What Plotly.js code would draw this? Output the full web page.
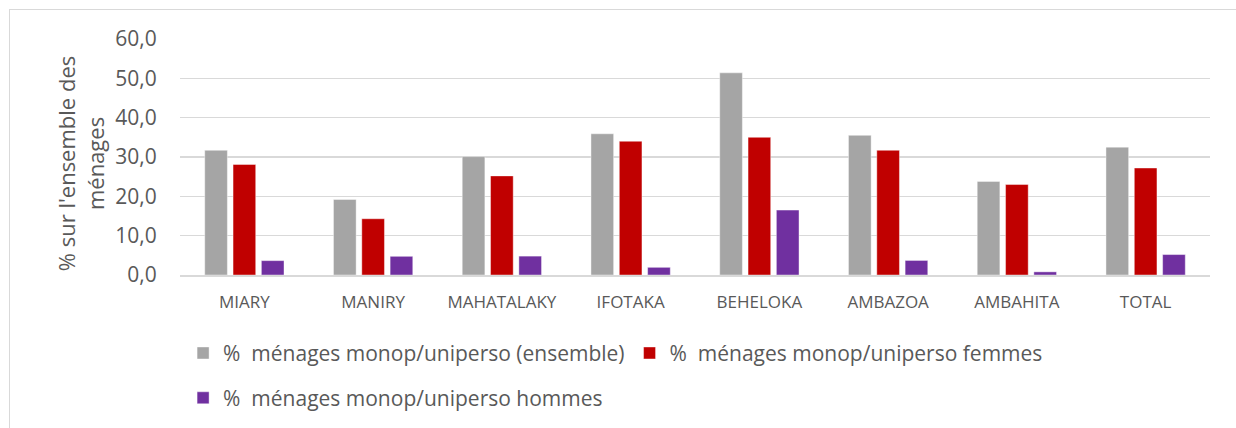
<!DOCTYPE html>
<html><head><meta charset="utf-8">
<script src="https://cdn.plot.ly/plotly-3.0.1.min.js"></script>
<style>
body{margin:0;padding:0;background:#fff;}
#frame{position:absolute;left:9px;top:9px;width:1240px;height:430px;border:1px solid #d9d9d9;box-sizing:border-box;}
#chart{position:absolute;left:0;top:0;width:1236px;height:428px;}
</style></head>
<body>
<div id="frame"></div>
<div id="chart"></div>
<script>
const categories = ["MIARY","MANIRY","MAHATALAKY","IFOTAKA","BEHELOKA","AMBAZOA","AMBAHITA","TOTAL"];
const ensemble = [31.7,19.2,30.1,35.9,51.4,35.5,23.8,32.5];
const femmes   = [28.1,14.3,25.2,34.0,35.0,31.7,23.0,27.2];
const hommes   = [3.65,4.75,4.8,1.95,16.5,3.7,0.8,5.2];
const seriesNames = ["%  ménages monop/uniperso (ensemble)","%  ménages monop/uniperso femmes","%  ménages monop/uniperso hommes"];
const yTicks = [0,10,20,30,40,50,60];
const yTitle = "% sur l'ensemble des<br>ménages";

const font = {family:"Open Sans, Liberation Sans, sans-serif", color:"#595959"};
const mk = (c)=>({color:c, line:{color:"rgba(255,255,255,0.6)", width:0.7}});
const traces = [
  {type:"bar", x:categories, y:ensemble, name:seriesNames[0], marker:mk("#a5a5a5"), legend:"legend"},
  {type:"bar", x:categories, y:femmes, name:seriesNames[1], marker:mk("#c00000"), legend:"legend"},
  {type:"bar", x:categories, y:hommes, name:seriesNames[2], marker:mk("#7030a0"), legend:"legend2"}
];
const legendFont = Object.assign({}, font, {size:21});
const layout = {
  width:1236, height:428,
  margin:{l:180, r:26, t:39, b:153.3, autoexpand:false},
  paper_bgcolor:"rgba(0,0,0,0)", plot_bgcolor:"rgba(0,0,0,0)",
  font:font,
  separators:", ",
  barmode:"group", bargap:0.34, bargroupgap:0.2,
  hovermode:false,
  xaxis:{tickfont:Object.assign({}, font, {size:17}), showline:true, linecolor:"#d9d9d9", linewidth:2,
         ticks:"outside", ticklen:11, tickcolor:"rgba(0,0,0,0)", fixedrange:true, automargin:false},
  yaxis:{range:[0,60], tickvals:yTicks, tickformat:".1f", tickfont:Object.assign({}, font, {size:21}),
         gridcolor:"#d9d9d9", gridwidth:1.5, zeroline:false, ticks:"outside", ticklen:18, tickcolor:"rgba(0,0,0,0)", automargin:false},
  annotations:[{text:yTitle, xref:"paper", yref:"paper", x:-0.097, y:0.47, xanchor:"center", yanchor:"middle",
                textangle:-90, showarrow:false, font:Object.assign({}, font, {size:22})}],
  showlegend:true,
  legend:{orientation:"h", x:0.003, xanchor:"left", y:-0.245, yanchor:"top", font:legendFont, bgcolor:"rgba(0,0,0,0)", itemclick:false},
  legend2:{orientation:"h", x:0.003, xanchor:"left", y:-0.435, yanchor:"top", font:legendFont, bgcolor:"rgba(0,0,0,0)", itemclick:false}
};
Plotly.newPlot("chart", traces, layout, {staticPlot:true, displayModeBar:false});
</script>
</body></html>
